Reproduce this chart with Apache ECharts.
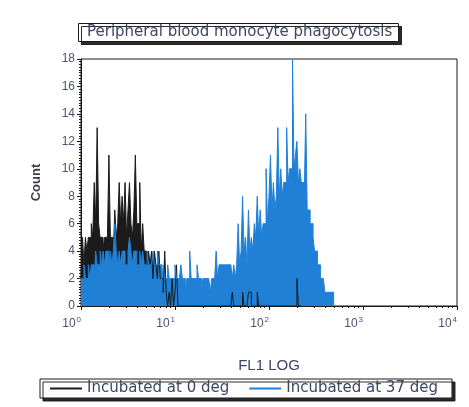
<!DOCTYPE html>
<html>
<head>
<meta charset="utf-8">
<script src="https://cdn.jsdelivr.net/npm/echarts@6/dist/echarts.min.js"></script>
<style>
  html, body { margin: 0; padding: 0; background: #ffffff; }
  #chart { width: 469px; height: 407px; }
</style>
</head>
<body>
<div id="chart"></div>
<script>
// Flow cytometry histogram: FL1 log channels, 64 channels per decade
const chartTitle = 'Peripheral blood monocyte phagocytosis';
const xAxisName = 'FL1 LOG';
const yAxisName = 'Count';
const seriesNames = ['Incubated at 0 deg', 'Incubated at 37 deg'];
const seriesColors = ['#1b1b1b', '#1f80d6'];
const channelsPerDecade = 64;

const xTickValues = [1, 10, 100, 1000, 10000];
const xTickExponents = ['0', '1', '2', '3', '4'];
const yTickValues = [0, 2, 4, 6, 8, 10, 12, 14, 16, 18];

// Counts per channel, starting at channel 0
const count0deg = [
  2, 5, 3, 5, 4, 5, 5, 6, 5, 9,          // 0-9
  6, 13, 6, 5, 5, 4, 5, 5, 5, 11,        // 10-19
  5, 5, 4, 7, 5, 6, 9, 6, 8, 6,          // 20-29
  9, 5, 7, 9, 6, 5, 7, 11, 6, 6,         // 30-39
  9, 4, 6, 4, 4, 3, 4, 3, 4, 2,          // 40-49
  4, 3, 2, 4, 2, 2, 1, 4, 1, 0,          // 50-59
  1, 0, 2, 0, 1, 3, 0, 0, 0, 0,          // 60-69
  0, 0, 0, 0, 0, 0, 0, 0, 0, 0,          // 70-79
  0, 0, 0, 0, 0, 0, 0, 0, 0, 0,          // 80-89
  0, 0, 0, 0, 0, 0, 0, 0, 0, 0,          // 90-99
  0, 0, 0, 1, 0, 0, 0, 0, 0, 0,          // 100-109
  1, 0, 0, 0, 1, 1, 0, 0, 0, 0,          // 110-119
  1, 0, 0, 0, 0, 0, 0, 0, 0, 0,          // 120-129
  0, 0, 0, 0, 0, 0, 0, 0, 0, 0,          // 130-139
  0, 0, 0, 0, 0, 0, 0, 2, 0, 0           // 140-149
];

const count37deg = [
  2, 2, 3, 2, 2, 3, 2, 3, 3, 2,          // 0-9
  4, 3, 3, 4, 3, 4, 3, 4, 4, 3,          // 10-19
  4, 3, 4, 6, 4, 3, 4, 3, 4, 4,          // 20-29
  3, 3, 4, 5, 4, 3, 4, 4, 3, 3,          // 30-39
  4, 3, 4, 3, 3, 4, 3, 3, 3, 4,          // 40-49
  3, 3, 4, 3, 3, 2, 3, 2, 2, 3,          // 50-59
  2, 2, 2, 2, 3, 2, 2, 2, 3, 2,          // 60-69
  2, 1, 2, 2, 4, 2, 2, 2, 2, 3,          // 70-79
  2, 2, 1, 2, 2, 2, 2, 2, 1, 2,          // 80-89
  2, 2, 4, 2, 3, 3, 3, 3, 3, 3,          // 90-99
  3, 3, 3, 2, 3, 2, 3, 6, 3, 4,          // 100-109
  8, 4, 5, 3, 7, 4, 5, 4, 6, 5,          // 110-119
  8, 5, 7, 5, 6, 6, 10, 6, 8, 11,        // 120-129
  7, 9, 7, 8, 13, 8, 10, 8, 9, 9,        // 130-139
  13, 9, 10, 10, 18, 10, 11, 12, 9, 10,  // 140-149
  9, 9, 8, 14, 7, 7, 6, 6, 5, 4,         // 150-159
  4, 3, 3, 2, 2, 2, 1, 1, 1, 1,          // 160-169
  1, 1, 0                                // 170-172
];

// Histogram outline: each channel spans [10^(i/64), 10^((i+1)/64)] at its count
function toOutline(counts) {
  const pts = [];
  counts.forEach((c, i) => {
    pts.push([Math.pow(10, i / channelsPerDecade), c]);
    pts.push([Math.pow(10, (i + 1) / channelsPerDecade), c]);
  });
  return pts;
}

// Log minor tick positions (2..9 within each decade)
const xMinorTicks = [];
for (let d = 0; d < xTickValues.length - 1; d++) {
  for (let k = 2; k <= 9; k++) xMinorTicks.push(k * xTickValues[d]);
}

const labelColor = '#4a5470';
const textColor = '#3c4763';
const chart = echarts.init(document.getElementById('chart'), null, { renderer: 'canvas' });

chart.setOption({
  animation: false,
  backgroundColor: '#ffffff',
  color: seriesColors,
  title: {
    text: chartTitle,
    left: 78,
    top: 23,
    padding: [2, 6, 2, 9],
    backgroundColor: '#ffffff',
    borderColor: '#1a1a1a',
    borderWidth: 1,
    shadowColor: 'rgba(20,20,20,0.9)',
    shadowOffsetX: 3,
    shadowOffsetY: 3,
    shadowBlur: 0,
    textStyle: {
      fontFamily: 'DejaVu Sans',
      fontSize: 15,
      lineHeight: 15,
      fontWeight: 'normal',
      color: textColor
    }
  },
  legend: {
    left: 40,
    top: 379,
    icon: 'rect',
    itemWidth: 32,
    itemHeight: 2,
    itemGap: 20,
    padding: [2, 14, 2, 10],
    backgroundColor: '#ffffff',
    borderColor: '#1a1a1a',
    borderWidth: 1,
    shadowColor: 'rgba(20,20,20,0.9)',
    shadowOffsetX: 3,
    shadowOffsetY: 3,
    shadowBlur: 0,
    textStyle: {
      fontFamily: 'DejaVu Sans',
      fontSize: 15,
      lineHeight: 15,
      color: textColor
    },
    data: seriesNames
  },
  grid: {
    left: 81,
    right: 12,
    top: 59,
    bottom: 101,
    show: true,
    borderColor: '#1a1a1a',
    borderWidth: 1,
    backgroundColor: 'transparent'
  },
  xAxis: [
    {
      type: 'log',
      logBase: 10,
      min: xTickValues[0],
      max: xTickValues[xTickValues.length - 1],
      name: xAxisName,
      nameLocation: 'middle',
      nameGap: 52,
      nameTextStyle: { fontFamily: 'Liberation Sans', fontSize: 15, color: textColor },
      axisLine: { show: true, lineStyle: { color: '#1a1a1a', width: 1 } },
      axisTick: { show: true, length: 4, lineStyle: { color: '#1a1a1a' } },
      splitLine: { show: false },
      axisLabel: {
        margin: 10,
        align: 'right',
        formatter: function (value) {
          let idx = 0;
          xTickValues.forEach((t, i) => {
            if (Math.abs(Math.log10(value) - Math.log10(t)) < 1e-6) idx = i;
          });
          return '{b|10}{s|' + xTickExponents[idx] + '}';
        },
        rich: {
          b: { fontFamily: 'Liberation Sans', fontSize: 12, color: labelColor, lineHeight: 16 },
          s: { fontFamily: 'Liberation Sans', fontSize: 8, color: labelColor, lineHeight: 16, verticalAlign: 'top', padding: [0, 0, 8, 1] }
        }
      }
    },
    {
      type: 'log',
      logBase: 10,
      min: xTickValues[0],
      max: xTickValues[xTickValues.length - 1],
      position: 'bottom',
      axisLine: { show: false },
      axisLabel: { show: false },
      splitLine: { show: false },
      axisTick: { show: true, length: 2, customValues: xMinorTicks, lineStyle: { color: '#1a1a1a' } }
    }
  ],
  yAxis: {
    type: 'value',
    min: yTickValues[0],
    max: yTickValues[yTickValues.length - 1],
    interval: 2,
    name: yAxisName,
    nameLocation: 'middle',
    nameGap: 38,
    nameTextStyle: { fontFamily: 'Liberation Sans', fontSize: 13, fontWeight: 'bold', color: '#3a3f4c' },
    axisLine: { show: true, lineStyle: { color: '#1a1a1a', width: 1 } },
    axisTick: { show: true, length: 4, lineStyle: { color: '#1a1a1a' } },
    minorTick: { show: true, splitNumber: 10, length: 2, lineStyle: { color: '#1a1a1a' } },
    splitLine: { show: false },
    axisLabel: {
      margin: 6,
      fontFamily: 'Liberation Sans',
      fontSize: 12,
      color: labelColor
    }
  },
  series: [
    {
      name: seriesNames[0],
      type: 'line',
      symbol: 'none',
      data: toOutline(count0deg),
      lineStyle: { width: 1, color: seriesColors[0], join: 'miter' },
      areaStyle: { color: seriesColors[0], opacity: 1 },
      itemStyle: { color: seriesColors[0] }
    },
    {
      name: seriesNames[1],
      type: 'line',
      symbol: 'none',
      data: toOutline(count37deg),
      lineStyle: { width: 1, color: seriesColors[1], join: 'miter' },
      areaStyle: { color: seriesColors[1], opacity: 1 },
      itemStyle: { color: seriesColors[1] }
    }
  ]
});
</script>
</body>
</html>
